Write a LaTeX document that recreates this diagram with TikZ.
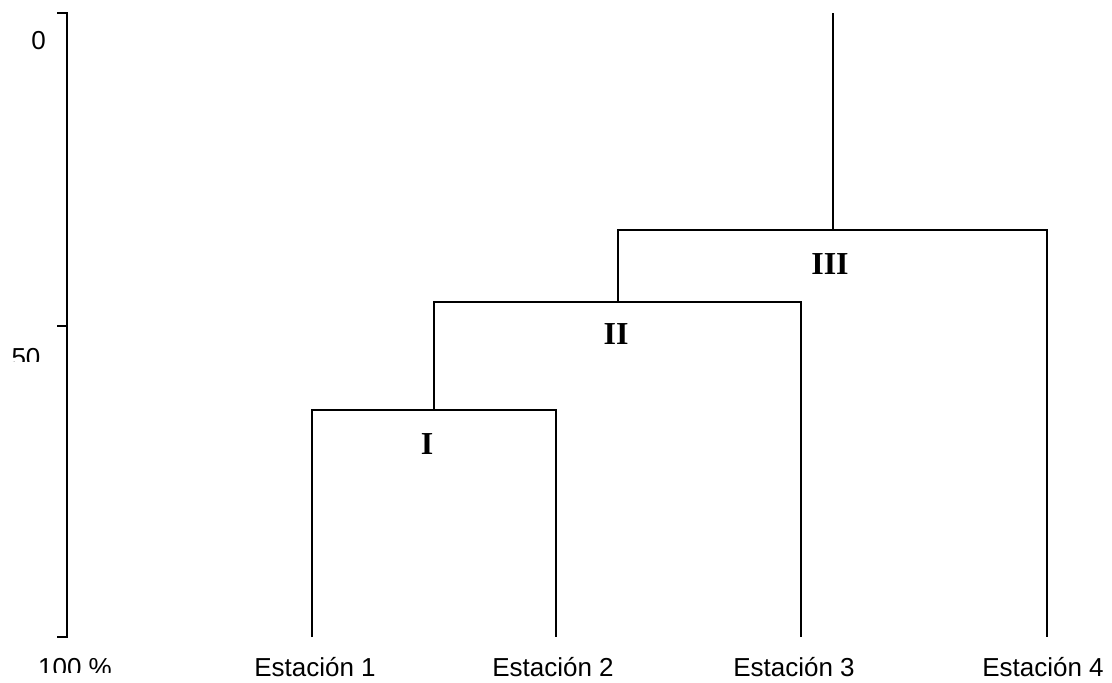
\documentclass[tikz,border=0pt]{standalone}
\usepackage{fontspec}
\setmainfont{Liberation Sans}
\newfontfamily\romanfont{Liberation Serif}
\usepackage{tikz}

\begin{document}
\begin{tikzpicture}
		[x=1pt,y=-1pt,line cap=butt,
		%Styles
		axis line/.style={line width=2.4pt},
		branch/.style={line width=2pt},
		leaf label/.style={font=\fontsize{26}{30}\selectfont,anchor=base,inner sep=0pt},
		scale label/.style={font=\fontsize{26}{30}\selectfont,anchor=base,inner sep=0pt},
		cluster label/.style={font=\romanfont\bfseries\fontsize{32}{36}\selectfont,inner sep=0pt}
		]
		\useasboundingbox (0,0) rectangle (1112,683);
		
		%The scale
		\coordinate (top) at (67,13);
		\coordinate (mid) at (67,326);
		\coordinate (bottom) at (67,637);
		\draw[axis line] ([xshift=-10pt]top) -- (top) -- (bottom) -- ([xshift=-10pt]bottom);
		\draw[axis line] ([xshift=-10pt]mid) -- (mid);
		\node[scale label] (s0) at (38.5,49) {0};
		\begin{scope}
			\clip (0,300) rectangle (66,361);
			\node[scale label] (s50) at (26,366) {50};
		\end{scope}
		\begin{scope}
			\clip (0,640) rectangle (200,672);
			\node[scale label] (s100) at (75,676) {100 \%};
		\end{scope}
		
		%The tree
		\coordinate (leaf1) at (312,637);
		\coordinate (leaf2) at (556,637);
		\coordinate (leaf3) at (801,637);
		\coordinate (leaf4) at (1047,637);
		\coordinate (joinI) at (434,410);
		\coordinate (joinII) at (618,302);
		\coordinate (joinIII) at (833,230);
		\coordinate (root) at (833,13);
		
		\draw[branch] (leaf1) |- (joinI) -| (leaf2);
		\draw[branch] (joinI) |- (joinII) -| (leaf3);
		\draw[branch] (joinII) |- (joinIII) -| (leaf4);
		\draw[branch] (joinIII) -- (root);
		
		\node[cluster label] (labelI) at (427,444) {I};
		\node[cluster label] (labelII) at (616,334) {II};
		\node[cluster label] (labelIII) at (830,264) {III};
		
		\foreach \i/\x in {1/315,2/553,3/794,4/1043}
			\node[leaf label] (station\i) at (\x,676) {Estación \i};
	\end{tikzpicture}
\end{document}
